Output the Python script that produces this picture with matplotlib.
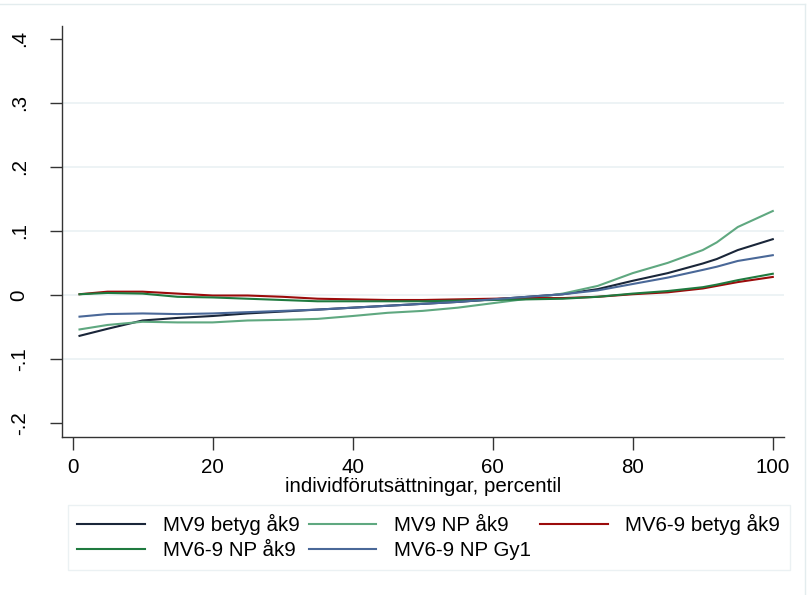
import matplotlib
matplotlib.use("Agg")
import matplotlib.pyplot as plt
from matplotlib.lines import Line2D

plt.rcParams['font.family'] = ['Liberation Sans', 'DejaVu Sans']

pct = [1, 5, 10, 15, 20, 25, 30, 35, 40, 45, 50, 55, 60, 65, 70, 75, 80, 85, 90, 92, 95, 100]

mv9_betyg = [-0.064, -0.053, -0.040, -0.036, -0.033, -0.029, -0.026, -0.023, -0.020, -0.017, -0.014,
             -0.011, -0.007, -0.003, 0.001, 0.009, 0.022, 0.034, 0.049, 0.056, 0.070, 0.087]
mv9_np = [-0.054, -0.047, -0.042, -0.043, -0.043, -0.040, -0.039, -0.0375, -0.033, -0.028, -0.025,
          -0.020, -0.013, -0.006, 0.002, 0.014, 0.034, 0.050, 0.070, 0.082, 0.106, 0.131]
mv69_betyg = [0.001, 0.005, 0.005, 0.002, -0.001, -0.001, -0.003, -0.006, -0.007, -0.008, -0.008,
              -0.007, -0.006, -0.005, -0.005, -0.003, 0.001, 0.004, 0.010, 0.014, 0.020, 0.028]
mv69_np = [0.001, 0.003, 0.002, -0.003, -0.004, -0.006, -0.008, -0.010, -0.010, -0.010, -0.010,
           -0.009, -0.008, -0.007, -0.006, -0.003, 0.002, 0.006, 0.012, 0.016, 0.023, 0.033]
mv69_gy1 = [-0.034, -0.030, -0.029, -0.030, -0.029, -0.027, -0.025, -0.023, -0.020, -0.017, -0.014,
            -0.011, -0.007, -0.003, 0.001, 0.007, 0.017, 0.027, 0.039, 0.044, 0.053, 0.062]

labels = ['MV9 betyg åk9', 'MV9 NP åk9', 'MV6-9 betyg åk9', 'MV6-9 NP åk9', 'MV6-9 NP Gy1']
colors = ['#1a2639', '#5fa880', '#9b0b0b', '#1f7a3f', '#4a6898']
series = [mv9_betyg, mv9_np, mv69_betyg, mv69_np, mv69_gy1]

yticks = [-0.2, -0.1, 0, 0.1, 0.2, 0.3, 0.4]
ytick_labels = ['-.2', '-.1', '0', '.1', '.2', '.3', '.4']
xticks = [0, 20, 40, 60, 80, 100]

fs = 14.8

fig = plt.figure(figsize=(8.08, 5.95), dpi=100)
ax = fig.add_axes([62 / 808, 1 - 437 / 595, 722 / 808, 411 / 595])

# grid lines (Stata skips the outer ticks)
for g in yticks[1:-1]:
    ax.axhline(g, color='#eaf1f3', lw=1.2, zorder=0)

for vals, c, lab in zip(series, colors, labels):
    ax.plot(pct, vals, color=c, lw=1.5, label=lab)

ax.set_xlim(-1.5, 101.6)
ax.set_ylim(-0.222, 0.42)
ax.set_xticks(xticks)
ax.set_yticks(yticks)
ax.set_yticklabels(ytick_labels, rotation=90, va='center')
ax.tick_params(axis='both', length=9, width=1, color='#333333', labelsize=fs)
ax.tick_params(axis='y', pad=15)
ax.tick_params(axis='x', pad=6)
for s in ['top', 'right']:
    ax.spines[s].set_visible(False)
for s in ['left', 'bottom']:
    ax.spines[s].set_color('#333333')
    ax.spines[s].set_linewidth(1)
ax.set_xlabel('individförutsättningar, percentil', fontsize=fs, labelpad=0)

# legend in the same order as the reference (3 columns, filled row-wise)
handles = [Line2D([], [], color=c, lw=1.5) for c in colors]
order = [0, 3, 1, 4, 2]
leg = fig.legend([handles[i] for i in order], [labels[i] for i in order],
                 ncol=3, loc='upper left', bbox_to_anchor=(68 / 808, 1 - 505 / 595),
                 fontsize=fs, handlelength=3.3, handletextpad=0.85,
                 labelspacing=0.3, borderpad=0.45, frameon=True, fancybox=False,
                 columnspacing=0.45, borderaxespad=0)
leg.get_frame().set_edgecolor('#e6eef0')
leg.get_frame().set_linewidth(1)

# faint outer graph-region border (top and right visible in the reference)
fig.add_artist(Line2D([0, 805 / 808], [1 - 4 / 595, 1 - 4 / 595], color='#e3ecee', lw=1))
fig.add_artist(Line2D([805 / 808, 805 / 808], [0, 1 - 4 / 595], color='#e3ecee', lw=1))

fig.savefig('out.png', dpi=100)
